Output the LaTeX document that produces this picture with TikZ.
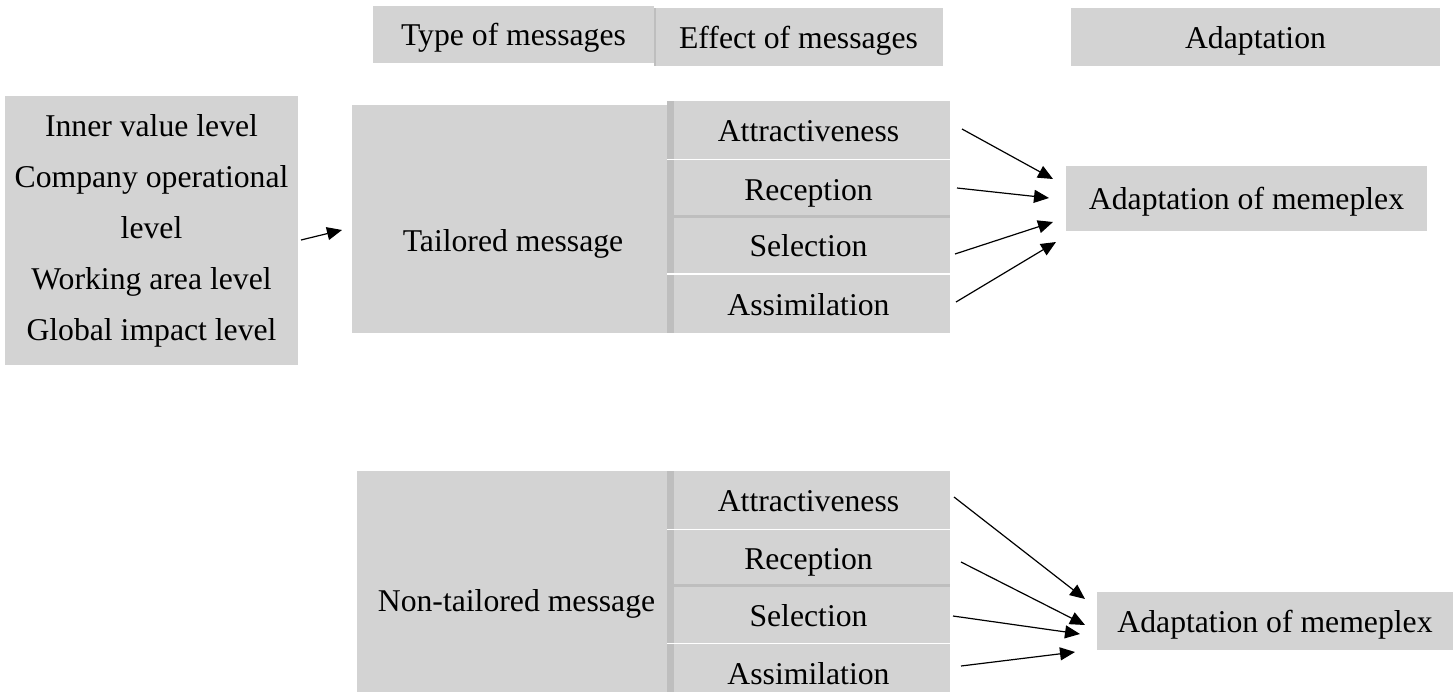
\documentclass[tikz,border=0pt]{standalone}
\usepackage{fontspec}
\setmainfont{Liberation Serif}
\usetikzlibrary{arrows.meta}
\definecolor{cellgray}{RGB}{211,211,211}
\definecolor{edgegray}{RGB}{190,190,190}
\tikzset{
  cellbase/.style={fill=cellgray, draw=none, inner sep=0pt},
  cell/.style={cellbase, text height=11.5pt, text depth=0.5pt,
    font=\fontsize{15.85pt}{19pt}\selectfont},
  leftstrip/.style={path picture={\fill[edgegray] (path picture bounding box.south west) rectangle ([xshift=#1]path picture bounding box.north west);}},
  bottomstrip/.style={postaction={path picture={\fill[edgegray] (path picture bounding box.south west) rectangle ([yshift=1.5pt]path picture bounding box.south east);}}},
  txt/.style={inner sep=0pt, text height=11.5pt, text depth=0.5pt, font=\fontsize{15.85pt}{19pt}\selectfont},
  arr/.style={-{Triangle[length=7.5pt,width=6.5pt]}, line width=0.6pt, black}
}
\begin{document}
\begin{tikzpicture}[x=0.5pt,y=-0.5pt]
\useasboundingbox (0,0) rectangle (1456,691);
\clip (0,0) rectangle (1456,691);
% headers
\node[cell, minimum width=140.5pt, minimum height=28.5pt] (type) at (513.5,34.5) {Type of messages};
\node[cell, leftstrip=1pt, minimum width=144.5pt, minimum height=29pt] (effect) at (798.5,37) {Effect of messages};
\node[cell, minimum width=184.5pt, minimum height=29pt] (adapt) at (1255.5,37) {Adaptation};
% levels box
\node[cellbase, align=center, font=\fontsize{15.85pt}{25.5pt}\selectfont,
  minimum width=146.5pt, minimum height=134.5pt] (levels) at (151.5,230.5)
  {Inner value level\\Company operational\\level\\Working area level\\Global impact level};
% tailored
\node[cell, minimum width=157.5pt, minimum height=114pt] (tail) at (509.5,219) {};
\node[txt] (tailtext) at (513,240) {Tailored message};
\node[cell, leftstrip=3.5pt, minimum width=141.5pt, minimum height=29pt] (a1) at (808.5,130) {Attractiveness};
\node[cell, leftstrip=3.5pt, bottomstrip, minimum width=141.5pt, minimum height=29pt] (r1) at (808.5,189) {Reception};
\node[cell, leftstrip=3.5pt, minimum width=141.5pt, minimum height=27.5pt] (s1) at (808.5,245.5) {Selection};
\node[cell, leftstrip=3.5pt, minimum width=141.5pt, minimum height=29pt] (m1) at (808.5,304) {Assimilation};
\node[cell, minimum width=180.5pt, minimum height=32.5pt] (mem1) at (1246.5,198.5) {Adaptation of memeplex};
% non-tailored
\node[cell, minimum width=155pt, minimum height=116pt] (nontail) at (512,587) {};
\node[txt] (nttext) at (516.5,600) {Non-tailored message};
\node[cell, leftstrip=3.5pt, minimum width=141.5pt, minimum height=29pt] (a2) at (808.5,500) {Attractiveness};
\node[cell, leftstrip=3.5pt, bottomstrip, minimum width=141.5pt, minimum height=28.5pt] (r2) at (808.5,558.5) {Reception};
\node[cell, leftstrip=3.5pt, minimum width=141.5pt, minimum height=28pt] (s2) at (808.5,615) {Selection};
\node[cell, leftstrip=3.5pt, minimum width=141.5pt, minimum height=29pt] (m2) at (808.5,673) {Assimilation};
\node[cell, minimum width=178pt, minimum height=29pt] (mem2) at (1275,621) {Adaptation of memeplex};
% connector end points
\coordinate (l0) at (301,240); \coordinate (t0) at (342,230);
\coordinate (a1o) at (962,129); \coordinate (a1i) at (1053,179);
\coordinate (r1o) at (957,188); \coordinate (r1i) at (1049,198);
\coordinate (s1o) at (955,254); \coordinate (s1i) at (1053,222);
\coordinate (m1o) at (956,302); \coordinate (m1i) at (1056,242);
\coordinate (a2o) at (954,497); \coordinate (a2i) at (1085,599);
\coordinate (r2o) at (961,562); \coordinate (r2i) at (1085,625);
\coordinate (s2o) at (953,616); \coordinate (s2i) at (1080,634);
\coordinate (m2o) at (961,666); \coordinate (m2i) at (1075,652);
\draw[arr] (l0) -- (t0);
\draw[arr] (a1o) -- (a1i);
\draw[arr] (r1o) -- (r1i);
\draw[arr] (s1o) -- (s1i);
\draw[arr] (m1o) -- (m1i);
\draw[arr] (a2o) -- (a2i);
\draw[arr] (r2o) -- (r2i);
\draw[arr] (s2o) -- (s2i);
\draw[arr] (m2o) -- (m2i);
\end{tikzpicture}
\end{document}
